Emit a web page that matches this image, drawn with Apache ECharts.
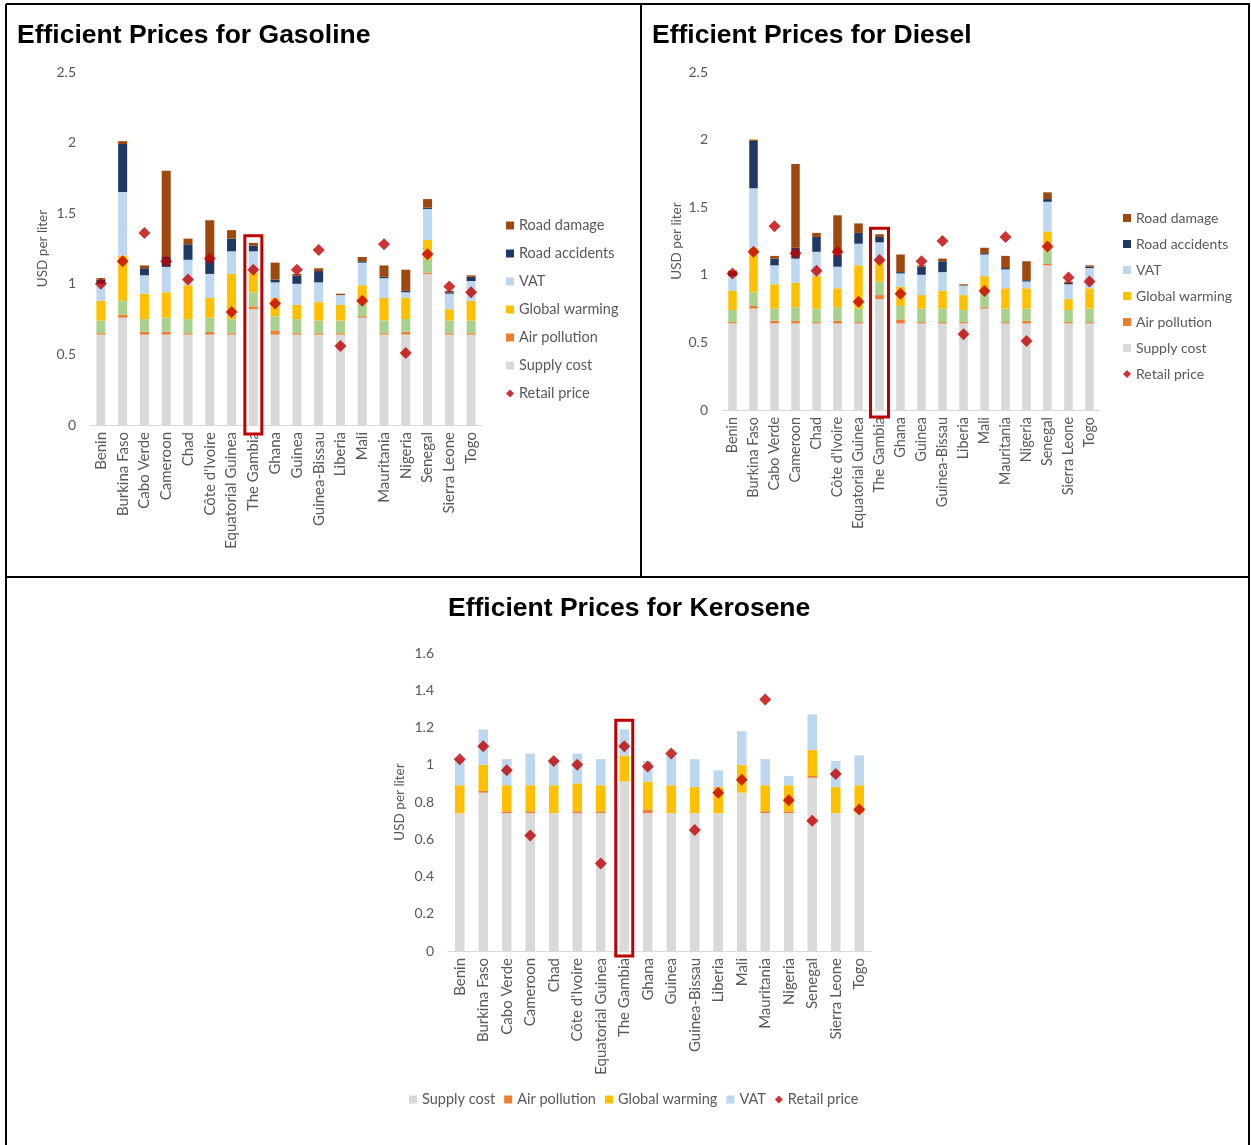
<!DOCTYPE html>
<html>
<head>
<meta charset="utf-8">
<title>Efficient Prices</title>
<script src="https://cdn.jsdelivr.net/npm/echarts@6/dist/echarts.min.js"></script>
<style>
  html, body { margin: 0; padding: 0; background: #fff; }
  #chart { width: 1251px; height: 1145px; }
</style>
</head>
<body>
<div id="chart"></div>
<script>
// Countries (same order in all three panels)
const countries = ['Benin', 'Burkina Faso', 'Cabo Verde', 'Cameroon', 'Chad', "Côte d'Ivoire",
  'Equatorial Guinea', 'The Gambia', 'Ghana', 'Guinea', 'Guinea-Bissau', 'Liberia', 'Mali',
  'Mauritania', 'Nigeria', 'Senegal', 'Sierra Leone', 'Togo'];

// Gasoline components, USD per liter
const gasolineSupplyCost    = [0.64, 0.76, 0.64, 0.64, 0.64, 0.64, 0.64, 0.82, 0.64, 0.64, 0.64, 0.64, 0.76, 0.64, 0.64, 1.07, 0.64, 0.64];
const gasolineAirPollution  = [0.01, 0.02, 0.02, 0.02, 0.01, 0.02, 0.01, 0.02, 0.03, 0.01, 0.01, 0.01, 0.01, 0.01, 0.02, 0.01, 0.01, 0.01];
const gasolineCongestion    = [0.09, 0.10, 0.09, 0.10, 0.10, 0.10, 0.10, 0.10, 0.10, 0.10, 0.09, 0.09, 0.09, 0.09, 0.09, 0.09, 0.09, 0.09];
const gasolineGlobalWarming = [0.14, 0.32, 0.18, 0.18, 0.24, 0.14, 0.32, 0.14, 0.13, 0.10, 0.13, 0.11, 0.13, 0.16, 0.15, 0.14, 0.08, 0.14];
const gasolineVAT           = [0.12, 0.45, 0.13, 0.18, 0.18, 0.17, 0.16, 0.15, 0.11, 0.15, 0.14, 0.07, 0.16, 0.14, 0.04, 0.22, 0.11, 0.14];
const gasolineRoadAccidents = [0.03, 0.34, 0.05, 0.07, 0.11, 0.10, 0.09, 0.04, 0.02, 0.06, 0.08, 0.00, 0.01, 0.01, 0.01, 0.01, 0.01, 0.03];
const gasolineRoadDamage    = [0.01, 0.02, 0.02, 0.61, 0.04, 0.28, 0.06, 0.02, 0.12, 0.01, 0.02, 0.01, 0.03, 0.08, 0.15, 0.06, 0.01, 0.01];
const gasolineRetailPrice   = [1.00, 1.16, 1.36, 1.16, 1.03, 1.18, 0.80, 1.10, 0.86, 1.10, 1.24, 0.56, 0.88, 1.28, 0.51, 1.21, 0.98, 0.94];

// Diesel components, USD per liter
const dieselSupplyCost    = [0.64, 0.75, 0.64, 0.64, 0.64, 0.64, 0.64, 0.82, 0.64, 0.64, 0.64, 0.64, 0.75, 0.64, 0.64, 1.07, 0.64, 0.64];
const dieselAirPollution  = [0.01, 0.02, 0.02, 0.02, 0.01, 0.02, 0.01, 0.03, 0.03, 0.01, 0.01, 0.01, 0.01, 0.01, 0.02, 0.01, 0.01, 0.01];
const dieselCongestion    = [0.09, 0.10, 0.09, 0.10, 0.10, 0.10, 0.10, 0.10, 0.10, 0.10, 0.10, 0.09, 0.11, 0.10, 0.09, 0.10, 0.09, 0.10];
const dieselGlobalWarming = [0.14, 0.33, 0.18, 0.18, 0.24, 0.14, 0.32, 0.15, 0.14, 0.10, 0.13, 0.11, 0.12, 0.15, 0.15, 0.14, 0.08, 0.15];
const dieselVAT           = [0.11, 0.44, 0.14, 0.18, 0.18, 0.16, 0.16, 0.14, 0.10, 0.15, 0.14, 0.07, 0.16, 0.14, 0.05, 0.22, 0.11, 0.15];
const dieselRoadAccidents = [0.03, 0.35, 0.05, 0.08, 0.11, 0.09, 0.08, 0.04, 0.01, 0.06, 0.08, 0.00, 0.01, 0.01, 0.01, 0.02, 0.01, 0.01];
const dieselRoadDamage    = [0.01, 0.01, 0.02, 0.62, 0.03, 0.29, 0.07, 0.02, 0.13, 0.01, 0.02, 0.01, 0.04, 0.09, 0.14, 0.05, 0.01, 0.01];
const dieselRetailPrice   = [1.01, 1.17, 1.36, 1.16, 1.03, 1.17, 0.80, 1.11, 0.86, 1.10, 1.25, 0.56, 0.88, 1.28, 0.51, 1.21, 0.98, 0.95];

// Kerosene components, USD per liter
const keroseneSupplyCost    = [0.74, 0.85, 0.74, 0.74, 0.74, 0.74, 0.74, 0.91, 0.74, 0.74, 0.74, 0.74, 0.85, 0.74, 0.74, 0.93, 0.74, 0.74];
const keroseneAirPollution  = [0.00, 0.01, 0.01, 0.01, 0.00, 0.01, 0.01, 0.00, 0.02, 0.00, 0.00, 0.00, 0.00, 0.01, 0.01, 0.01, 0.00, 0.00];
const keroseneGlobalWarming = [0.15, 0.14, 0.14, 0.14, 0.15, 0.15, 0.14, 0.14, 0.15, 0.15, 0.14, 0.14, 0.15, 0.14, 0.14, 0.14, 0.14, 0.15];
const keroseneVAT           = [0.14, 0.19, 0.14, 0.17, 0.14, 0.16, 0.14, 0.14, 0.11, 0.16, 0.15, 0.09, 0.18, 0.14, 0.05, 0.19, 0.14, 0.16];
const keroseneRetailPrice   = [1.03, 1.10, 0.97, 0.62, 1.02, 1.00, 0.47, 1.10, 0.99, 1.06, 0.65, 0.85, 0.92, 1.35, 0.81, 0.70, 0.95, 0.76];

// Axis tick settings
const roadFuelAxis = { min: 0, max: 2.5, interval: 0.5 };
const keroseneAxis = { min: 0, max: 1.6, interval: 0.2 };

const COLORS = {
  'Supply cost': '#D9D9D9',
  'Air pollution': '#ED7D31',
  'Congestion': '#A9D18E',
  'Global warming': '#FFC000',
  'VAT': '#BDD7EE',
  'Road accidents': '#203864',
  'Road damage': '#9E480E',
  'Retail price': '#C00000'
};

const LABEL_FONT = 'Lato, "Open Sans", sans-serif';
const TEXT_GREY = '#595959';

function barSeries(name, data, idx, stack, width) {
  return {
    type: 'bar', name: name, data: data, stack: stack,
    xAxisIndex: idx, yAxisIndex: idx, barWidth: width,
    itemStyle: { color: COLORS[name] },
    emphasis: { disabled: true }
  };
}
function priceSeries(data, idx, size) {
  return {
    type: 'scatter', name: 'Retail price', data: data,
    xAxisIndex: idx, yAxisIndex: idx, symbol: 'diamond', symbolSize: size,
    itemStyle: { color: COLORS['Retail price'] }, z: 5
  };
}
function catAxis(idx, fontSize) {
  return {
    type: 'category', gridIndex: idx, data: countries,
    axisTick: { show: false },
    axisLine: { lineStyle: { color: '#D9D9D9', width: 1 } },
    axisLabel: { rotate: 90, interval: 0, margin: 7, color: TEXT_GREY, fontFamily: LABEL_FONT, fontSize: fontSize }
  };
}
function valAxis(idx, range, gap) {
  return {
    type: 'value', gridIndex: idx, min: range.min, max: range.max, interval: range.interval,
    name: 'USD per liter', nameLocation: 'middle', nameRotate: 90, nameGap: gap,
    nameTextStyle: { color: TEXT_GREY, fontFamily: LABEL_FONT, fontSize: 13.5 },
    axisLine: { show: false }, axisTick: { show: false }, splitLine: { show: false },
    axisLabel: { color: TEXT_GREY, fontFamily: LABEL_FONT, fontSize: 14, margin: 14 }
  };
}
function titleAt(text, pos) {
  return Object.assign({
    text: text, padding: 0,
    textStyle: { color: '#000', fontFamily: '"Liberation Sans", Arial, sans-serif', fontWeight: 'bold', fontSize: 26.5 }
  }, pos);
}
const roadLegendNames = ['Road damage', 'Road accidents', 'VAT', 'Global warming', 'Air pollution', 'Supply cost',
  { name: 'Retail price', icon: 'diamond' }];
function legendText(size) {
  return { color: TEXT_GREY, fontFamily: LABEL_FONT, fontSize: size, lineHeight: 14 };
}

const chart = echarts.init(document.getElementById('chart'), null, { renderer: 'canvas' });

chart.setOption({
  animation: false,
  backgroundColor: '#fff',
  title: [
    titleAt('Efficient Prices for Gasoline', { left: 17, top: 22 }),
    titleAt('Efficient Prices for Diesel', { left: 652, top: 22 }),
    titleAt('Efficient Prices for Kerosene', { left: 448, top: 595 })
  ],
  legend: [
    { orient: 'vertical', left: 506, top: 218, padding: 0, itemWidth: 8, itemHeight: 8, itemGap: 13,
      icon: 'rect', textStyle: legendText(14.5), data: roadLegendNames, selectedMode: false },
    { orient: 'vertical', left: 1123, top: 211, padding: 0, itemWidth: 8, itemHeight: 8, itemGap: 12,
      icon: 'rect', textStyle: legendText(14), data: roadLegendNames, selectedMode: false },
    { orient: 'horizontal', left: 409, top: 1092, padding: 0, itemWidth: 8, itemHeight: 8, itemGap: 9,
      icon: 'rect', textStyle: legendText(14.5), selectedMode: false,
      data: ['Supply cost', 'Air pollution', 'Global warming', 'VAT', { name: 'Retail price', icon: 'diamond' }] }
  ],
  grid: [
    { left: 90, top: 72, width: 392, height: 353 },
    { left: 722, top: 72, width: 378, height: 338 },
    { left: 448, top: 653, width: 423, height: 298 }
  ],
  xAxis: [catAxis(0, 15), catAxis(1, 14.4), catAxis(2, 15)],
  yAxis: [valAxis(0, roadFuelAxis, 40), valAxis(1, roadFuelAxis, 38), valAxis(2, keroseneAxis, 41)],
  series: [
    barSeries('Supply cost', gasolineSupplyCost, 0, 'gas', 9),
    barSeries('Air pollution', gasolineAirPollution, 0, 'gas', 9),
    barSeries('Congestion', gasolineCongestion, 0, 'gas', 9),
    barSeries('Global warming', gasolineGlobalWarming, 0, 'gas', 9),
    barSeries('VAT', gasolineVAT, 0, 'gas', 9),
    barSeries('Road accidents', gasolineRoadAccidents, 0, 'gas', 9),
    barSeries('Road damage', gasolineRoadDamage, 0, 'gas', 9),
    priceSeries(gasolineRetailPrice, 0, 12),

    barSeries('Supply cost', dieselSupplyCost, 1, 'diesel', 8.5),
    barSeries('Air pollution', dieselAirPollution, 1, 'diesel', 8.5),
    barSeries('Congestion', dieselCongestion, 1, 'diesel', 8.5),
    barSeries('Global warming', dieselGlobalWarming, 1, 'diesel', 8.5),
    barSeries('VAT', dieselVAT, 1, 'diesel', 8.5),
    barSeries('Road accidents', dieselRoadAccidents, 1, 'diesel', 8.5),
    barSeries('Road damage', dieselRoadDamage, 1, 'diesel', 8.5),
    priceSeries(dieselRetailPrice, 1, 12),

    barSeries('Supply cost', keroseneSupplyCost, 2, 'kero', 9.5),
    barSeries('Air pollution', keroseneAirPollution, 2, 'kero', 9.5),
    barSeries('Global warming', keroseneGlobalWarming, 2, 'kero', 9.5),
    barSeries('VAT', keroseneVAT, 2, 'kero', 9.5),
    priceSeries(keroseneRetailPrice, 2, 12)
  ]
});

// Red outline around The Gambia's bar in each panel, positioned via the axes
function stackTotal(lists, i) {
  return lists.reduce((s, arr) => s + arr[i], 0);
}
function gambiaBox(axisIdx, total, padTop, padBottom, width) {
  const i = countries.indexOf('The Gambia');
  const cx = chart.convertToPixel({ xAxisIndex: axisIdx }, countries[i]);
  const yTop = chart.convertToPixel({ yAxisIndex: axisIdx }, total) - padTop;
  const yBottom = chart.convertToPixel({ yAxisIndex: axisIdx }, 0) + padBottom;
  return {
    type: 'rect', z: 100, silent: true,
    shape: { x: cx - width / 2, y: yTop, width: width, height: yBottom - yTop },
    style: { fill: 'none', stroke: '#C00000', lineWidth: 3 }
  };
}
const gi = countries.indexOf('The Gambia');
const gasTotal = stackTotal([gasolineSupplyCost, gasolineAirPollution, gasolineCongestion, gasolineGlobalWarming,
  gasolineVAT, gasolineRoadAccidents, gasolineRoadDamage], gi);
const dieselTotal = stackTotal([dieselSupplyCost, dieselAirPollution, dieselCongestion, dieselGlobalWarming,
  dieselVAT, dieselRoadAccidents, dieselRoadDamage], gi);
const keroTotal = stackTotal([keroseneSupplyCost, keroseneAirPollution, keroseneGlobalWarming, keroseneVAT], gi);

// Page frame lines separating the three panels
function frameLine(x1, y1, x2, y2) {
  return { type: 'line', z: 100, silent: true, shape: { x1, y1, x2, y2 }, style: { stroke: '#000', lineWidth: 2 } };
}

chart.setOption({
  graphic: {
    elements: [
      frameLine(6, 4, 1250, 4),
      frameLine(6, 4, 6, 1145),
      frameLine(1249, 4, 1249, 1145),
      frameLine(641, 4, 641, 577),
      frameLine(6, 577, 1250, 577),
      gambiaBox(0, gasTotal, 7, 9, 17),
      gambiaBox(1, dieselTotal, 6, 7, 18),
      gambiaBox(2, keroTotal, 9, 5, 17)
    ]
  }
});
</script>
</body>
</html>
